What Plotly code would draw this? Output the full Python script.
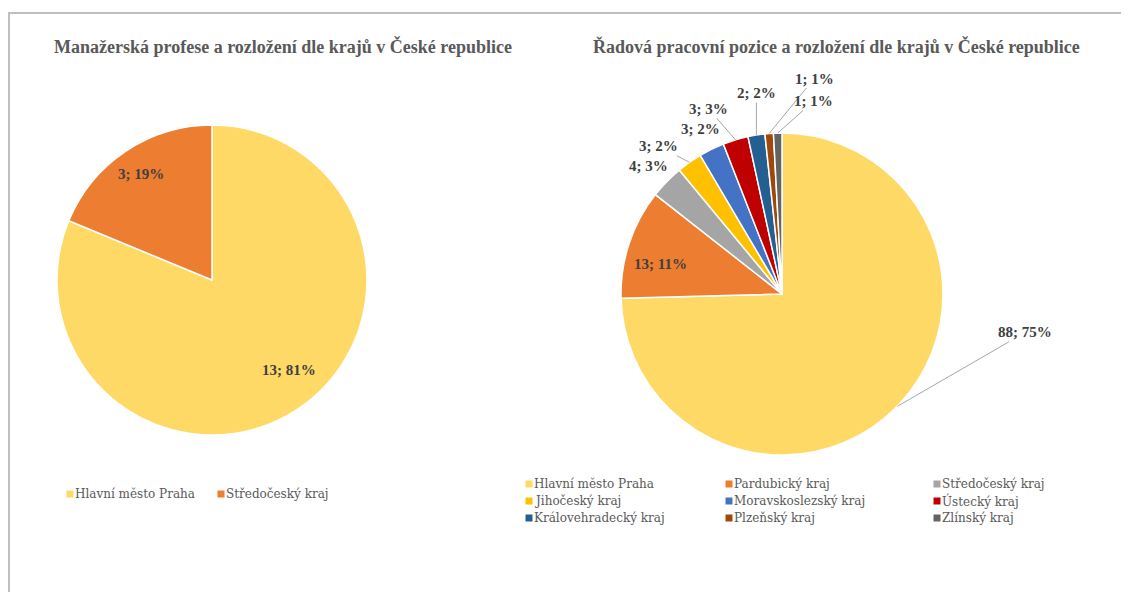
import math
import plotly.graph_objects as go

# ---------------- data ----------------
left_title = "Manažerská profese a rozložení dle krajů v České republice"
left_labels = ["Hlavní město Praha", "Středočeský kraj"]
left_values = [13, 3]
left_pct = [81, 19]

right_title = "Řadová pracovní pozice a rozložení dle krajů v České republice"
right_labels = ["Hlavní město Praha", "Pardubický kraj", "Středočeský kraj",
                "Jihočeský kraj", "Moravskoslezský kraj", "Ústecký kraj",
                "Královehradecký kraj", "Plzeňský kraj", "Zlínský kraj"]
right_values = [88, 13, 4, 3, 3, 3, 2, 1, 1]
right_pct = [75, 11, 3, 2, 2, 3, 2, 1, 1]

# ---------------- style ----------------
PAGE_OFF = 8                      # browser body margin
W, H = 1129 - 2 * PAGE_OFF, 600 - 2 * PAGE_OFF
left_colors = ["#FFD966", "#ED7D31"]
right_colors = ["#FFD966", "#ED7D31", "#A5A5A5", "#FFC000", "#4472C4",
                "#C00000", "#255E91", "#9E480E", "#636363"]
TXT = "#595959"
LBL = "#404040"
SERIF = "Liberation Serif, Times New Roman, serif"
LEG_SERIF = "DejaVu Serif, serif"

L_C, L_R = (212, 280), 155
R_C, R_R = (782, 294), 161

def px(x):
    return (x - PAGE_OFF) / W

def py(y):
    return 1 - (y - PAGE_OFF) / H

def domain(c, r):
    return dict(x=[px(c[0] - r), px(c[0] + r)], y=[py(c[1] + r), py(c[1] - r)])

fig = go.Figure()
fig.add_trace(go.Pie(labels=left_labels, values=left_values, sort=False,
                     direction="clockwise", rotation=0, textinfo="none",
                     marker=dict(colors=left_colors, line=dict(color="white", width=1.5)),
                     domain=domain(L_C, L_R), showlegend=False, hoverinfo="label+value+percent"))
fig.add_trace(go.Pie(labels=right_labels, values=right_values, sort=False,
                     direction="clockwise", rotation=0, textinfo="none",
                     marker=dict(colors=right_colors, line=dict(color="white", width=1.5)),
                     domain=domain(R_C, R_R), showlegend=False, hoverinfo="label+value+percent"))

annotations = []
shapes = []

def mid_angles(values):
    tot = sum(values)
    out, acc = [], 0
    for v in values:
        out.append((acc + v / 2) / tot * 2 * math.pi)
        acc += v
    return out

def point(c, r, ang, f):
    return c[0] + f * r * math.sin(ang), c[1] - f * r * math.cos(ang)

lbl_font = dict(family=SERIF, size=15, color=LBL)

def text_at(x, y, txt, font, xanchor="center"):
    annotations.append(dict(x=px(x), y=py(y), xref="paper", yref="paper",
                            xanchor=xanchor, yanchor="middle",
                            text=txt, showarrow=False, font=font))

# left pie labels (inside): radial fraction, angular nudge (rad)
left_place = [(0.765, -0.115), (0.82, 0.0)]
for v, p, a, (f, da) in zip(left_values, left_pct, mid_angles(left_values), left_place):
    x, y = point(L_C, L_R, a + da, f)
    text_at(x, y, f"<b>{v}; {p}%</b>", lbl_font)

# right pie labels
# (mode, radial fraction for inside / pixel offset for outside, show leader)
right_place = [("out", (128, -74), True), ("in", 0.78, False), ("out", (-18, -16), False),
               ("out", (-31, -16), True), ("out", (-11, -20), False), ("out", (-27, -31), True),
               ("out", (0, -42), True), ("out", (45, -55), True), ("out", (36, -32), True)]
for v, p, a, pl in zip(right_values, right_pct, mid_angles(right_values), right_place):
    txt = f"<b>{v}; {p}%</b>"
    if pl[0] == "in":
        x, y = point(R_C, R_R, a - 0.075, pl[1])
        text_at(x, y, txt, lbl_font)
    else:
        x, y = point(R_C, R_R, a, 1.0)
        dx, dy = pl[1]
        if pl[2]:
            annotations.append(dict(x=px(x), y=py(y), xref="paper", yref="paper",
                                    text=txt, showarrow=True, ax=dx, ay=dy,
                                    xanchor="center", yanchor="middle",
                                    arrowhead=0, arrowwidth=1, arrowcolor="#A6A6A6",
                                    standoff=0, font=lbl_font))
        else:
            text_at(x + dx, y + dy, txt, lbl_font)

# titles
title_font = dict(family=SERIF, size=18, color=TXT)
text_at(283, 46, f"<b>{left_title}</b>", title_font)
text_at(836, 46, f"<b>{right_title}</b>", title_font)

# legends (manual)
leg_font = dict(family=LEG_SERIF, size=12, color=TXT)
MS = 3.5

def legend_item(x, y, label, color):
    shapes.append(dict(type="rect", xref="paper", yref="paper",
                       x0=px(x - MS), x1=px(x + MS), y0=py(y + MS), y1=py(y - MS),
                       fillcolor=color, line=dict(width=0)))
    text_at(x + 3, y, label, leg_font, xanchor="left")

left_leg_x = [70, 221]
for lab, col, lx in zip(left_labels, left_colors, left_leg_x):
    legend_item(lx, 494, lab, col)

right_cols = [529, 729, 937]
right_rows = [484, 501, 518]
for i, (lab, col) in enumerate(zip(right_labels, right_colors)):
    legend_item(right_cols[i % 3], right_rows[i // 3], lab, col)

# chart-area border
shapes.append(dict(type="line", xref="paper", yref="paper", x0=px(8), x1=px(1129),
                   y0=py(13), y1=py(13), line=dict(color="#BFBFBF", width=2)))
shapes.append(dict(type="line", xref="paper", yref="paper", x0=px(9), x1=px(9),
                   y0=py(13), y1=py(600), line=dict(color="#BFBFBF", width=2)))

fig.update_layout(width=W, height=H, margin=dict(l=0, r=0, t=0, b=0),
                  paper_bgcolor="white", plot_bgcolor="white",
                  annotations=annotations, shapes=shapes, showlegend=False)

fig.write_html("out.html")
